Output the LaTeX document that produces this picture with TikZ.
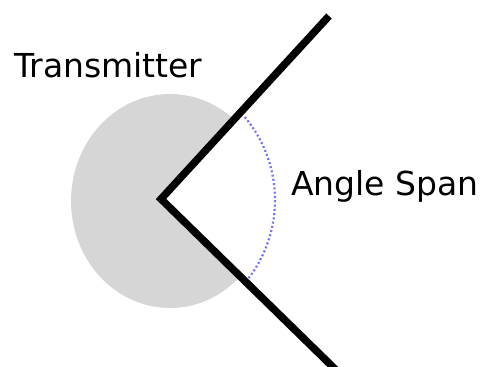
\documentclass[tikz,border=0pt]{standalone}
\usepackage{fontspec}
\setmainfont{DejaVu Sans}
\definecolor{spot}{RGB}{214,214,214}
\definecolor{arcblue}{RGB}{115,115,255}
\tikzset{
  beam/.style={line width=7.5pt, line join=miter, line cap=butt},
  label/.style={inner sep=0pt, font=\fontsize{33}{40}\selectfont},
  span/.style={arcblue, line width=2.2pt, dash pattern=on 2pt off 2.3pt}
}
\begin{document}
\begin{tikzpicture}[x=1pt,y=-1pt]
\useasboundingbox (0,0) rectangle (485,367);
\coordinate (top) at (329,16);
\coordinate (apex) at (161,199);
\coordinate (bot) at (337,371);
\begin{scope}
  \clip (0,0) -- (top) -- (apex) -- (bot) -- (0,367) -- cycle;
  \fill[spot] (170,201) ellipse [x radius=99, y radius=107];
\end{scope}
\draw[span] (146,200) ++(-40:129) arc [start angle=-40, end angle=41, radius=129];
\draw[beam] (top) -- (apex) -- (bot);
\node[label, anchor=base west] (tx) at (14,77) {Transmitter};
\node[label, anchor=base west] (as) at (291,195) {Angle Span};
\end{tikzpicture}
\end{document}
